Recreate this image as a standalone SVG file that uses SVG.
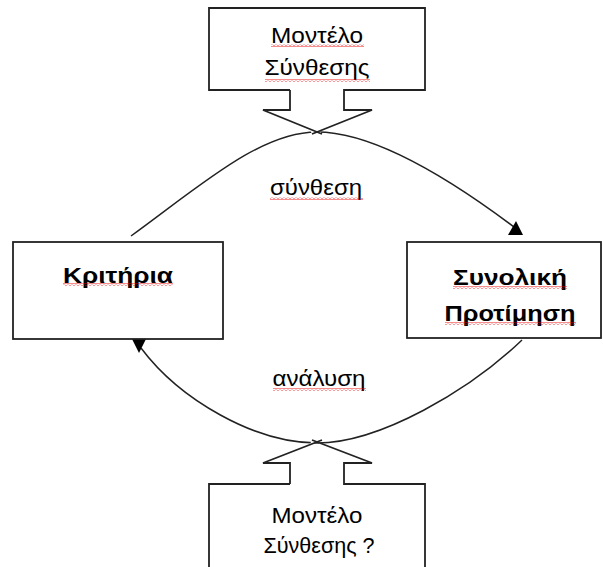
<svg xmlns="http://www.w3.org/2000/svg" width="603" height="567" viewBox="0 0 603 567">
<style>
.box{fill:#fff;stroke:#222;stroke-width:1.8}
.ln{fill:none;stroke:#222;stroke-width:1.5}
.ah{fill:#000;stroke:none}
.t{font-family:"Liberation Sans",Arial,sans-serif;font-size:22px;fill:#000;text-anchor:middle}
.b{font-weight:bold}
.sq{fill:url(#sq)}
</style>
<defs>
<pattern id="sq" x="0" y="0" width="4" height="3" patternUnits="userSpaceOnUse">
<path d="M0,2.5 L2,0.5 L4,2.5" fill="none" stroke="#e00" stroke-width="0.9"/>
</pattern>
</defs>
<g id="connectors">
<path class="ln" d="M131,236 C200,186 260,132 317,132 C375,132 452,180 518,230"/>
<polygon class="ah" points="508,235 523,235 516,221"/>
<path class="ln" d="M522,340 C470,390 380,443 317,443 C255,443 180,400 141,348"/>
<polygon class="ah" points="132,339 146,339 139,353"/>
</g>
<g id="top-model">
<path class="box" d="M290,90 H209 V8 H425 V90 H344 V110 H372 L312,134 M290,90 V110 H263 L322,134"/>
<text class="t" x="317" y="43" textLength="92" lengthAdjust="spacingAndGlyphs">Μοντέλο</text>
<rect class="sq" x="271" y="44" width="93" height="3"/>
<text class="t" x="317" y="75" textLength="105" lengthAdjust="spacingAndGlyphs">Σύνθεσης</text>
<rect class="sq" x="265" y="79" width="105" height="3"/>
</g>
<g id="criteria">
<rect class="box" x="13" y="242" width="210" height="97"/>
<text class="t b" x="118" y="283" textLength="110" lengthAdjust="spacingAndGlyphs">Κριτήρια</text>
<rect class="sq" x="63" y="283" width="110" height="3"/>
</g>
<g id="overall">
<rect class="box" x="407" y="242" width="194" height="96"/>
<text class="t b" x="510" y="285" textLength="114" lengthAdjust="spacingAndGlyphs">Συνολική</text>
<rect class="sq" x="453" y="286" width="114" height="3"/>
<text class="t b" x="510" y="321" textLength="131" lengthAdjust="spacingAndGlyphs">Προτίμηση</text>
<rect class="sq" x="445" y="322" width="131" height="3"/>
</g>
<g id="label-synthesis">
<text class="t" x="316" y="195" textLength="92" lengthAdjust="spacingAndGlyphs">σύνθεση</text>
<rect class="sq" x="270" y="197" width="93" height="3"/>
</g>
<g id="label-analysis">
<text class="t" x="319" y="386" textLength="93" lengthAdjust="spacingAndGlyphs">ανάλυση</text>
<rect class="sq" x="273" y="388" width="93" height="3"/>
</g>
<g id="bottom-model">
<path class="box" d="M290,484 H209 V575 H425 V484 H344 V463 H372 L312,440 M290,484 V463 H263 L322,440"/>
<text class="t" x="317" y="523" textLength="91" lengthAdjust="spacingAndGlyphs">Μοντέλο</text>
<text class="t" x="319" y="553" textLength="111" lengthAdjust="spacingAndGlyphs">Σύνθεσης ?</text>
</g>
</svg>
